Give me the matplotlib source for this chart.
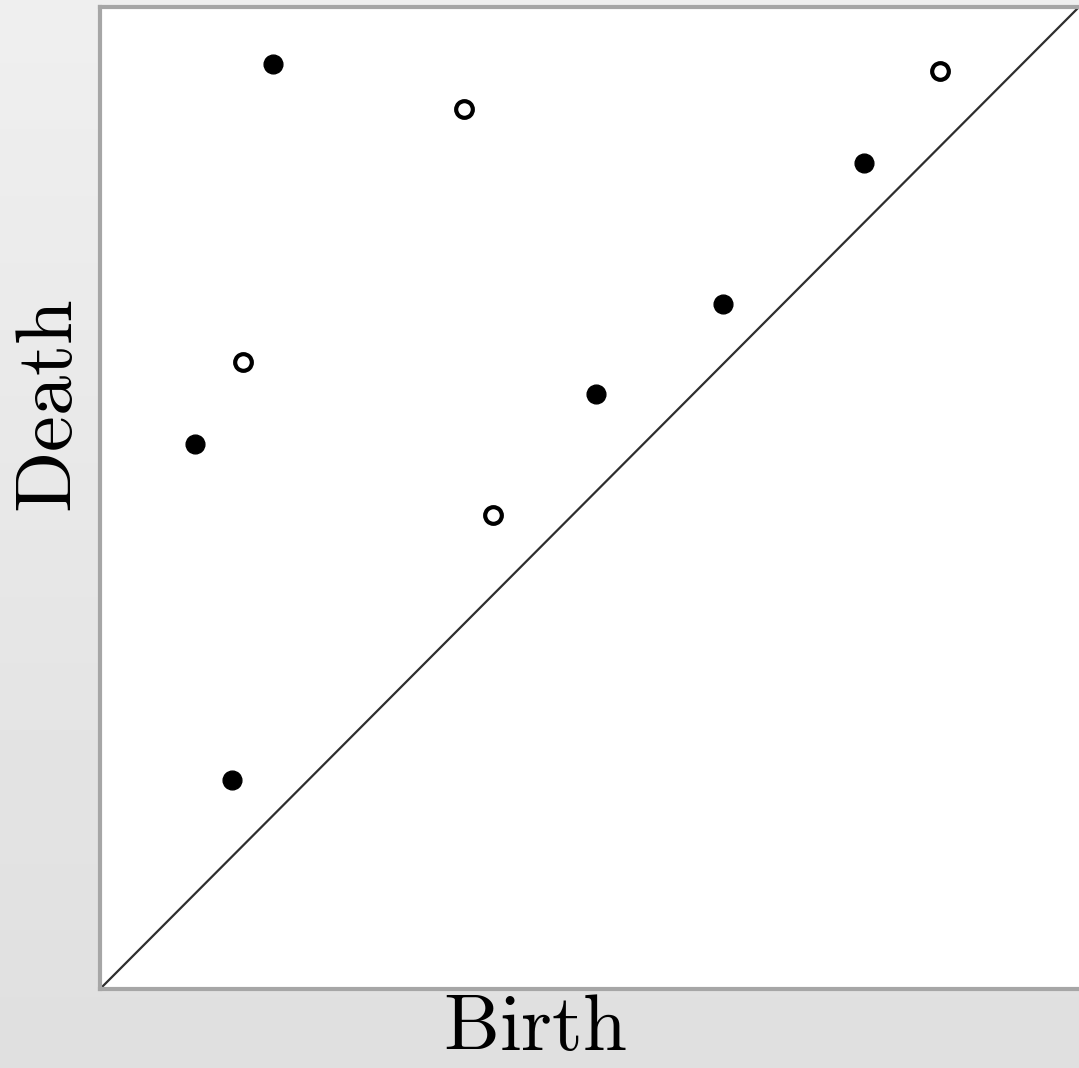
import numpy as np
import matplotlib.pyplot as plt

plt.rcParams["mathtext.fontset"] = "cm"

# points of the persistence diagram (axes run 0..1)
filled_birth = [0.177, 0.097, 0.135, 0.507, 0.636, 0.780]
filled_death = [0.942, 0.555, 0.213, 0.606, 0.698, 0.841]
hollow_birth = [0.372, 0.146, 0.401, 0.858]
hollow_death = [0.896, 0.639, 0.483, 0.935]
x_label = "Birth"
y_label = "Death"

W, H = 1079, 1068
fig = plt.figure(figsize=(W / 100, H / 100), dpi=100)

# grey gradient background
bg = fig.add_axes([0, 0, 1, 1], zorder=0)
grad = np.linspace(0.937, 0.875, 256).reshape(-1, 1)
bg.imshow(grad, aspect="auto", cmap="gray", vmin=0, vmax=1, extent=[0, 1, 0, 1])
bg.axis("off")

ax = fig.add_axes([100 / W, (H - 989) / H, (W - 100) / W, 982 / H], zorder=1)
ax.set_facecolor("white")
ax.set_xlim(0, 1)
ax.set_ylim(0, 1)
ax.plot([0, 1], [0, 1], color="#2e2e2e", lw=1.6, zorder=2)
ax.plot(filled_birth, filled_death, "o", ms=13.5, color="black",
        markeredgecolor="black", zorder=3)
ax.plot(hollow_birth, hollow_death, "o", ms=12, markerfacecolor="white",
        markeredgecolor="black", mew=3, zorder=3)
ax.set_xticks([])
ax.set_yticks([])
for side in ["left", "top", "bottom"]:
    ax.spines[side].set_color("#a6a6a6")
    ax.spines[side].set_linewidth(3)
ax.spines["right"].set_visible(False)

fig.text(535 / W, (H - 1050) / H, r"$\mathrm{%s}$" % x_label, fontsize=57,
         ha="center", va="baseline")
fig.text(50 / W, (H - 406) / H, r"$\mathrm{%s}$" % y_label, fontsize=58,
         ha="center", va="center", rotation=90)

fig.savefig("out.png", dpi=100)
